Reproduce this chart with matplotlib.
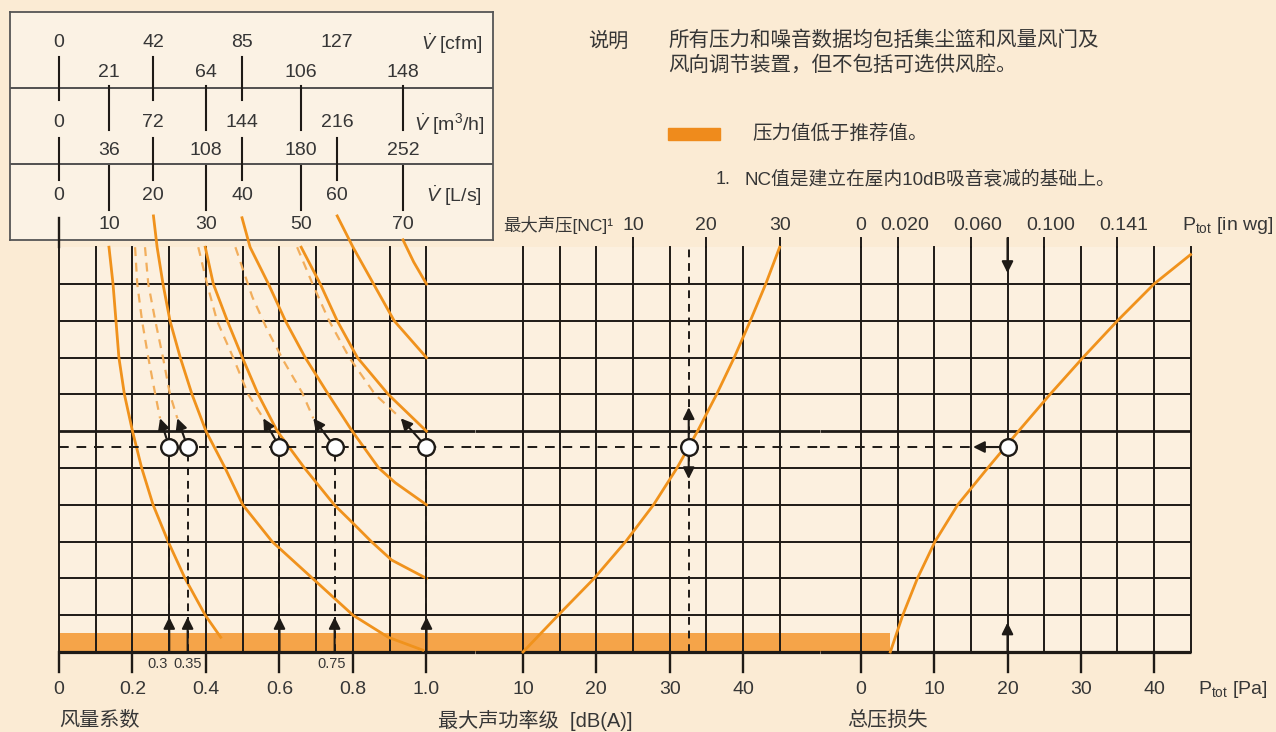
#!/usr/bin/env python3
import matplotlib
matplotlib.use("Agg")
import matplotlib.pyplot as plt
from matplotlib.patches import Rectangle

plt.rcParams["font.family"] = ["Liberation Sans", "Noto Sans CJK SC", "DejaVu Sans"]
plt.rcParams["mathtext.fontset"] = "custom"
plt.rcParams["mathtext.rm"] = "Liberation Sans"
plt.rcParams["mathtext.it"] = "Liberation Sans:italic"
plt.rcParams["mathtext.bf"] = "Liberation Sans:bold"

###############################################################################
# Datos leídos del gráfico
# filas de la rejilla: 0 = línea inferior, 11 = borde superior
###############################################################################

ROW_CIRCLE = 5.57
BAND_TOP = 0.52

# panel izquierdo (风量系数)
coef_grid = [0.0, 0.1, 0.2, 0.3, 0.4, 0.5, 0.6, 0.7, 0.8, 0.9, 1.0]
coef_ticks = [0.0, 0.2, 0.4, 0.6, 0.8, 1.0]
coef_ticklabels = ["0", "0.2", "0.4", "0.6", "0.8", "1.0"]
coef_marks = [0.3, 0.35, 0.6, 0.75, 1.0]
coef_mark_ends = [0.275, 0.322, 0.556, 0.692, 0.93]

# curvas de caudal (L/s), sólidas
q10_row = [11, 10, 9, 8, 7, 6, 5, 4, 3, 2, 1, 0.4]
q10_x = [0.136, 0.147, 0.155, 0.163, 0.178, 0.2, 0.225, 0.256, 0.297, 0.343, 0.398, 0.44]
q20_row = [11.85, 11, 10, 9, 8, 7, 6, 5, 4, 3, 2, 1, 0.4, 0.05]
q20_x = [0.257, 0.267, 0.283, 0.302, 0.33, 0.362, 0.4, 0.452, 0.5, 0.58, 0.69, 0.8, 0.896, 0.99]
q30_row = [11, 10, 9, 8, 7, 6, 5, 4, 3.5, 3, 2.5, 2]
q30_x = [0.398, 0.42, 0.458, 0.499, 0.542, 0.594, 0.668, 0.749, 0.8, 0.85, 0.905, 1.0]
q40_row = [11.8, 11, 10, 9, 8, 7, 6, 5, 4.6, 4]
q40_x = [0.498, 0.52, 0.57, 0.616, 0.67, 0.733, 0.798, 0.87, 0.915, 1.0]
q50_row = [11, 10, 9, 8, 7, 6]
q50_x = [0.659, 0.711, 0.757, 0.812, 0.896, 1.0]
q60_row = [11.85, 11, 10, 9, 8]
q60_x = [0.757, 0.8, 0.856, 0.912, 1.0]
q70_row = [11.2, 10.6, 10]
q70_x = [0.936, 0.965, 1.0]

# curvas discontinuas
d_row = [11, 10, 9, 8, 7, 6.35]
d030_x = [0.207, 0.213, 0.226, 0.243, 0.262, 0.275]
d035_x = [0.234, 0.243, 0.262, 0.283, 0.302, 0.322]
d060_x = [0.379, 0.403, 0.43, 0.474, 0.515, 0.556]
d075_row = [11, 9.65, 8.75, 7.93, 7.04, 6.35]
d075_x = [0.48, 0.526, 0.567, 0.61, 0.662, 0.692]
d100_x = [0.648, 0.69, 0.735, 0.79, 0.86, 0.93]

# panel central (dB(A) / NC)
db_grid = [10, 15, 20, 25, 30, 35, 40, 45]
db_ticks = [10, 20, 30, 40]
nc_pos = [25, 35, 45]
nc_labels = ["10", "20", "30"]
sound_db = [10, 14.8, 19.7, 24.0, 27.8, 31.0, 33.8, 36.4, 38.8, 41.0, 43.1, 45.0]
sound_row = [0, 1, 2, 3, 4, 5, 6, 7, 8, 9, 10, 11]
db_mark = 32.6

# panel derecho (Pa / in wg)
pa_grid = [0, 5, 10, 15, 20, 25, 30, 35, 40, 45]
pa_ticks = [0, 10, 20, 30, 40]
inwg_pos = [0, 5, 15, 25, 35]
inwg_labels = ["0", "0.020", "0.060", "0.100", "0.141"]
press_pa = [4.0, 5.7, 7.7, 10.1, 13.2, 17.3, 21.5, 25.8, 30.3, 35.0, 40.0, 45.0]
press_row = [0, 1, 2, 3, 4, 5, 6, 7, 8, 9, 10, 10.8]
pa_mark = 20
pa_arrow_end = 15.3
band_end_pa = 4.0

# recuadro de caudal
flow_pos = [0, 0.136, 0.256, 0.4, 0.498, 0.659, 0.757, 0.936]
flow_cfm = ["0", "21", "42", "64", "85", "106", "127", "148"]
flow_m3h = ["0", "36", "72", "108", "144", "180", "216", "252"]
flow_ls = ["0", "10", "20", "30", "40", "50", "60", "70"]

###############################################################################
# Estilo / geometría
###############################################################################

W, H = 1276, 732
ROW_MIN, ROW_MAX = -0.6, 12.0
ROW_PX = 36.8
Y_BOT_PX = 652 + 0.6 * ROW_PX
Y_TOP_PX = 652 - 12.0 * ROW_PX

BG = "#FBEBD4"
GRID_BG = "#FCF0DF"
INSET_BG = "#FBF2E4"
LINE = "#1E1A16"
ORANGE = "#F0921C"
ORANGE_D = "#F2AE5C"
BAND = "#F5A449"
TXT = "#363636"


def panel(fig, px0, px1, ref_px, ref_val, px_per_unit):
    ax = fig.add_axes([px0 / W, (H - Y_BOT_PX) / H, (px1 - px0) / W,
                       (Y_BOT_PX - Y_TOP_PX) / H])
    ax.set_xlim(ref_val + (px0 - ref_px) / px_per_unit,
                ref_val + (px1 - ref_px) / px_per_unit)
    ax.set_ylim(ROW_MIN, ROW_MAX)
    ax.set_axis_off()
    ax.set_zorder(2)
    return ax


def draw_grid(ax, xs, x_from, x_to, down, up, band_to):
    ax.fill_between([x_from, x_to], 0, 11, color=GRID_BG, lw=0, zorder=0)
    ax.fill_between([x_from, band_to], 0, BAND_TOP, color=BAND, lw=0, zorder=1)
    for r in range(1, 11):
        ax.plot([x_from, x_to], [r, r], color=LINE, lw=2.0 if r == 6 else 1.4,
                zorder=2, solid_capstyle="butt")
    ax.plot([x_from, x_to], [0, 0], color=LINE, lw=2.3, zorder=2, solid_capstyle="butt")
    for x in xs:
        ax.plot([x, x], [0, 11], color=LINE, lw=1.4, zorder=2)
    for x in down:
        ax.plot([x, x], [-0.55, 0], color=LINE, lw=1.7, zorder=2)
    for x in up:
        ax.plot([x, x], [11, 11.25], color=LINE, lw=1.4, zorder=2, clip_on=False)


def arrow(ax, start, end, shrink_a=0):
    ax.annotate("", xy=end, xytext=start,
                arrowprops=dict(arrowstyle="-|>", color=LINE, lw=1.5,
                                mutation_scale=17, shrinkA=shrink_a, shrinkB=0),
                zorder=5)


def circle(ax, x):
    ax.plot([x], [ROW_CIRCLE], "o", ms=12, mfc="white", mec=LINE, mew=1.7, zorder=6)


def hdash(ax, x0, x1):
    ax.plot([x0, x1], [ROW_CIRCLE, ROW_CIRCLE], color=LINE, lw=1.4,
            dashes=(5, 4), zorder=4)


def main():
    fig = plt.figure(figsize=(W / 100, H / 100), dpi=100)
    fig.patch.set_facecolor(BG)

    # ---------------- recuadro de caudal ----------------
    ins = fig.add_axes([10 / W, (H - 240) / H, 483 / W, 228 / H])
    ins.set_zorder(1)
    ins.set_facecolor(INSET_BG)
    ins.set_xlim((10 - 59) / 367.5, (493 - 59) / 367.5)
    ins.set_ylim(0, 3)
    ins.set_xticks([])
    ins.set_yticks([])
    for s in ins.spines.values():
        s.set_color("#555555")
        s.set_linewidth(1.3)
    ins.axhline(1, color="#444444", lw=1.3)
    ins.axhline(2, color="#444444", lw=1.3)
    for i, x in enumerate(flow_pos):
        if i % 2 == 0:
            if i != 6:
                ins.plot([x, x], [1.84, 2.41], color=LINE, lw=1.5)
            ins.plot([x, x], [0.79, 1.34], color=LINE, lw=1.5)
            ys = (2.6, 1.54, 0.58)
        else:
            ins.plot([x, x], [1.45, 2.03], color=LINE, lw=1.5)
            ins.plot([x, x], [0.39, 0.97], color=LINE, lw=1.5)
            ys = (2.21, 1.18, 0.2)
        ins.text(x, ys[0], flow_cfm[i], ha="center", va="center", fontsize=14, color=TXT)
        ins.text(x, ys[1], flow_m3h[i], ha="center", va="center", fontsize=14, color=TXT)
        ins.text(x, ys[2], flow_ls[i], ha="center", va="center", fontsize=14, color=TXT)
    ins.text(1.151, 2.58, r"$\dot{V}$ [cfm]", ha="right", va="center", fontsize=14, color=TXT)
    ins.text(1.157, 1.52, r"$\dot{V}$ [m$^3$/h]", ha="right", va="center", fontsize=14, color=TXT)
    ins.text(1.151, 0.58, r"$\dot{V}$ [L/s]", ha="right", va="center", fontsize=14, color=TXT)

    # ---------------- panel izquierdo ----------------
    axl = panel(fig, 40, 475, 59, 0.0, 367.5)
    xr = axl.get_xlim()[1]
    draw_grid(axl, coef_grid, 0.0, xr, coef_ticks, [], xr)
    axl.plot([0, 0], [11, 11.8], color=LINE, lw=1.7, zorder=2, clip_on=False)

    for xs, rows in [(q10_x, q10_row), (q20_x, q20_row), (q30_x, q30_row),
                     (q40_x, q40_row), (q50_x, q50_row), (q60_x, q60_row),
                     (q70_x, q70_row)]:
        axl.plot(xs, rows, color=ORANGE, lw=2.0, zorder=3, clip_on=False,
                 solid_joinstyle="round")
    for xs, rows in [(d030_x, d_row), (d035_x, d_row), (d060_x, d_row),
                     (d075_x, d075_row), (d100_x, d_row)]:
        axl.plot(xs, rows, color=ORANGE_D, lw=1.6, dashes=(4, 3), zorder=3)

    hdash(axl, 0.0, xr)
    for x, xe in zip(coef_marks, coef_mark_ends):
        axl.plot([x, x], [0, ROW_CIRCLE], color=LINE, lw=1.4, dashes=(4, 3), zorder=4)
        arrow(axl, (x, 0), (x, 0.95))
        arrow(axl, (x, ROW_CIRCLE), (xe, 6.35), shrink_a=6)
        circle(axl, x)

    for x, lab in zip(coef_ticks, coef_ticklabels):
        axl.text(x, -1.03, lab, ha="center", va="center", fontsize=14, color=TXT)
    axl.text(0.297, -0.33, "0.3", ha="right", va="center", fontsize=10.5, color=TXT)
    axl.text(0.31, -0.33, "0.35", ha="left", va="center", fontsize=10.5, color=TXT)
    axl.text(0.743, -0.33, "0.75", ha="center", va="center", fontsize=10.5, color=TXT)
    axl.text(0.0, -1.85, "风量系数", ha="left", va="center", fontsize=14.5, color=TXT)

    # ---------------- panel central ----------------
    axm = panel(fig, 475, 820, 523, 10.0, 7.333)
    m0, m1 = axm.get_xlim()
    draw_grid(axm, db_grid, m0, m1, db_ticks, nc_pos, m1)
    axm.plot(sound_db, sound_row, color=ORANGE, lw=2.0, zorder=3, solid_joinstyle="round")
    hdash(axm, m0, m1)
    axm.plot([db_mark, db_mark], [0, 11], color=LINE, lw=1.4, dashes=(4, 3), zorder=4)
    arrow(axm, (db_mark, ROW_CIRCLE), (db_mark, 6.65), shrink_a=6)
    arrow(axm, (db_mark, ROW_CIRCLE), (db_mark, 4.7), shrink_a=6)
    circle(axm, db_mark)

    for x in db_ticks:
        axm.text(x, -1.03, str(x), ha="center", va="center", fontsize=14, color=TXT)
    axm.text(-1.6, -1.85, "最大声功率级  [dB(A)]", ha="left", va="center",
             fontsize=14.5, color=TXT)
    for x, lab in zip(nc_pos, nc_labels):
        axm.text(x, 11.6, lab, ha="center", va="center", fontsize=14, color=TXT)
    axm.text(22.3, 11.6, "最大声压[NC]¹", ha="right", va="center", fontsize=12.5, color=TXT)

    # ---------------- panel derecho ----------------
    axr = panel(fig, 820, 1230, 861, 0.0, 7.325)
    r0 = axr.get_xlim()[0]
    draw_grid(axr, pa_grid, r0, 45, pa_ticks, inwg_pos + [pa_mark], band_end_pa)
    axr.plot(press_pa, press_row, color=ORANGE, lw=2.0, zorder=3, clip_on=False,
             solid_joinstyle="round")
    hdash(axr, r0, pa_arrow_end)
    arrow(axr, (pa_mark, 11.25), (pa_mark, 10.3))
    arrow(axr, (pa_mark, 0), (pa_mark, 0.8))
    arrow(axr, (pa_mark, ROW_CIRCLE), (pa_arrow_end, ROW_CIRCLE), shrink_a=6)
    circle(axr, pa_mark)

    for x in pa_ticks:
        axr.text(x, -1.03, str(x), ha="center", va="center", fontsize=14, color=TXT)
    axr.text(46.0, -1.03, r"P$_{\mathrm{tot}}$ [Pa]", ha="left", va="center",
             fontsize=14, color=TXT)
    axr.text(-1.9, -1.85, "总压损失", ha="left", va="center", fontsize=14.5, color=TXT)
    for x, lab in zip(inwg_pos, inwg_labels):
        off = 0.9 if x > 0 else 0.0
        axr.text(x + off, 11.6, lab, ha="center", va="center", fontsize=14, color=TXT)
    axr.text(43.8, 11.6, r"P$_{\mathrm{tot}}$ [in wg]", ha="left", va="center",
             fontsize=14, color=TXT)

    # ---------------- notas ----------------
    def ftext(x, y, s, **kw):
        fig.text(x / W, 1 - y / H, s, va="center", color=TXT, **kw)

    ftext(588, 41, "说明", fontsize=14.5)
    ftext(668, 40, "所有压力和噪音数据均包括集尘篮和风量风门及", fontsize=14.8)
    ftext(668, 65, "风向调节装置，但不包括可选供风腔。", fontsize=14.8)
    fig.patches.append(Rectangle((668 / W, 1 - 140 / H), 52 / W, 12 / H,
                                 transform=fig.transFigure, color="#EF8B1C"))
    ftext(752, 134, "压力值低于推荐值。", fontsize=14)
    ftext(716, 179, "1.", fontsize=13)
    ftext(744, 179, "NC值是建立在屋内10dB吸音衰减的基础上。", fontsize=13.5)

    fig.savefig("out.png", dpi=100, facecolor=BG)
    plt.close(fig)


if __name__ == "__main__":
    main()
